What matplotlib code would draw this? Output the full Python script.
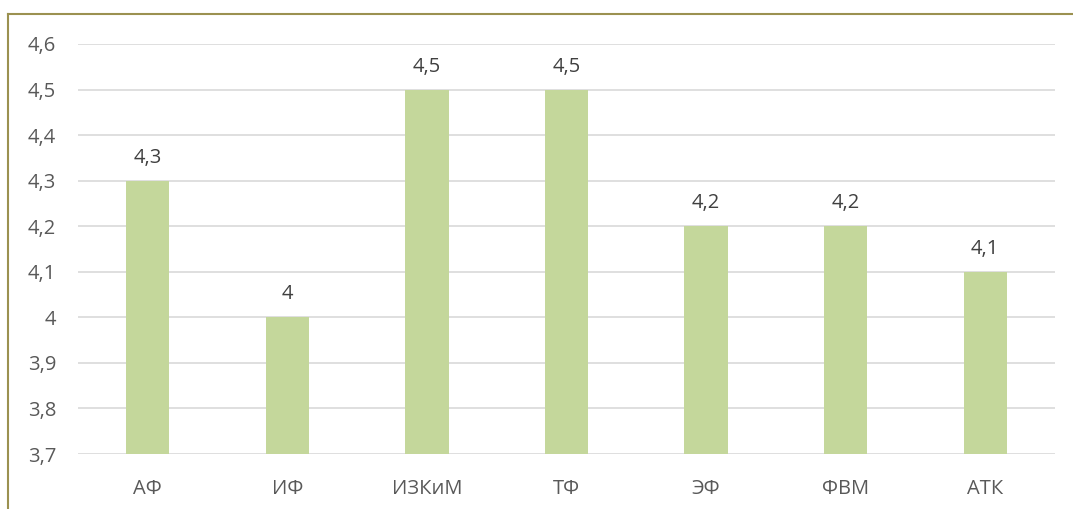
import matplotlib
matplotlib.use("Agg")
import matplotlib.pyplot as plt
from matplotlib.lines import Line2D

categories = ["АФ", "ИФ", "ИЗКиМ", "ТФ", "ЭФ", "ФВМ", "АТК"]
values = [4.3, 4.0, 4.5, 4.5, 4.2, 4.2, 4.1]
labels = ["4,3", "4", "4,5", "4,5", "4,2", "4,2", "4,1"]
yticks = [3.7, 3.8, 3.9, 4.0, 4.1, 4.2, 4.3, 4.4, 4.5, 4.6]
ytick_labels = ["3,7", "3,8", "3,9", "4", "4,1", "4,2", "4,3", "4,4", "4,5", "4,6"]

plt.rcParams['font.family'] = ['Open Sans', 'DejaVu Sans']
W, H = 1073, 509
fig = plt.figure(figsize=(W / 100, H / 100), dpi=100)
ax = fig.add_axes([78 / W, 1 - 454 / H, (1055 - 78) / W, (454 - 44) / H])

x = range(len(categories))
ax.bar(x, [v - 3.7 for v in values], bottom=3.7, width=0.31, color="#c4d79b", zorder=3)
for xi, v, lab in zip(x, values, labels):
    ax.annotate(lab, (xi, v), xytext=(0, 13), textcoords="offset points",
                ha="center", va="baseline", fontsize=14.5, color="#404040")

ax.set_xlim(-0.5, len(categories) - 0.5)
ax.set_ylim(3.7, 4.6)
ax.set_yticks(yticks)
ax.set_yticklabels(ytick_labels)
ax.set_xticks(list(x))
ax.set_xticklabels(categories)
ax.tick_params(axis="both", length=0, labelsize=14.5, colors="#595959")
ax.tick_params(axis="y", pad=15.8)
ax.tick_params(axis="x", pad=18)
ax.grid(axis="y", color="#d9d9d9", linewidth=1.2, zorder=0)
for s in ax.spines.values():
    s.set_visible(False)

border = "#9b9150"
fig.add_artist(Line2D([8 / W, 8 / W], [0, 1 - 14 / H], transform=fig.transFigure, color=border, linewidth=1.5))
fig.add_artist(Line2D([8 / W, 1], [1 - 14 / H, 1 - 14 / H], transform=fig.transFigure, color=border, linewidth=1.5))

fig.savefig("out.png", dpi=100)
